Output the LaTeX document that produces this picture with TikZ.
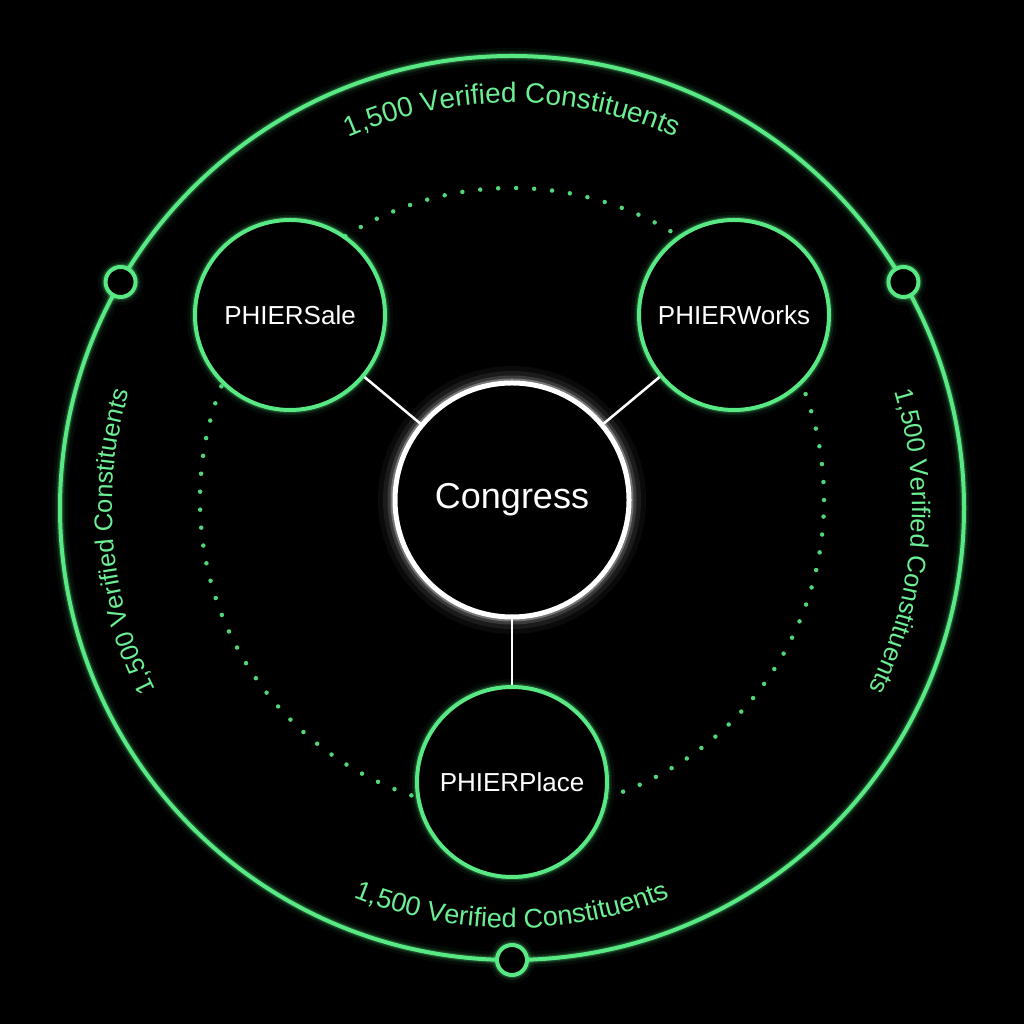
\documentclass[tikz,border=0pt]{standalone}
\usepackage{fontspec}
\setmainfont{Liberation Sans}
\usetikzlibrary{decorations.text}
\definecolor{neon}{RGB}{88,232,132}
\definecolor{neontext}{RGB}{108,238,148}
\newcommand\lblfontA{\fontsize{28pt}{32pt}\selectfont}
\newcommand\lblfontB{\fontsize{25.5pt}{30pt}\selectfont}
\newcommand\lblfontC{\fontsize{27pt}{31pt}\selectfont}
\begin{document}
\begin{tikzpicture}[x=1pt,y=1pt,
  glowg/.style={preaction={draw=neon,line width=16pt,draw opacity=0.05},
                preaction={draw=neon,line width=10pt,draw opacity=0.10},
                preaction={draw=neon,line width=6.5pt,draw opacity=0.22}},
  gloww/.style={preaction={draw=white,line width=34pt,draw opacity=0.04},
                preaction={draw=white,line width=24pt,draw opacity=0.07},
                preaction={draw=white,line width=15pt,draw opacity=0.14},
                preaction={draw=white,line width=9pt,draw opacity=0.30}},
  hub/.style={circle, draw=neon, line width=4pt, fill=black, minimum size=190pt,
              inner sep=0pt, text=white, font=\fontsize{26pt}{30pt}\selectfont, glowg},
  core/.style={circle, draw=white, line width=5pt, fill=black, minimum size=234pt,
              inner sep=0pt, text=white, font=\fontsize{36pt}{40pt}\selectfont, gloww},
  ring/.style={circle, draw=neon, line width=4pt, fill=black, minimum size=30pt,
              inner sep=0pt, glowg},
  link/.style={draw=white, line width=2.5pt},
  arclabel/.style={decorate, decoration={text along path, text align=center,
              text color=neontext, text={|#1|1,500 Verified Constituents}}}
]
\fill[black] (0,0) rectangle (1024,1024);
\useasboundingbox (0,0) rectangle (1024,1024);

\coordinate (O) at (512,516);
\coordinate (C) at (512,524);

% dotted orbit
\draw[neon, draw opacity=0.92, line width=4.5pt, line cap=round,
      dash pattern=on 0pt off 18pt] (C) circle[radius=312];

% outer circle
\draw[neon, line width=4pt, glowg] (O) circle[radius=452];

% rings on outer circle
\node[ring] (r1) at ([shift={(150:452)}]O) {};
\node[ring] (r2) at ([shift={(30:452)}]O) {};
\node[ring] (r3) at ([shift={(270:452)}]O) {};

% curved labels
\path[arclabel=\lblfontA] ([shift={(150:405)}]O) arc[start angle=150, end angle=30, radius=405];
\path[arclabel=\lblfontB] ([shift={(235:400)}]O) arc[start angle=235, end angle=135, radius=400];
\path[arclabel=\lblfontB] ([shift={(45:400)}]O) arc[start angle=45, end angle=-55, radius=400];
\path[arclabel=\lblfontC] ([shift={(210:420)}]O) arc[start angle=210, end angle=330, radius=420];

% nodes
\node[core] (cong) at (C) {Congress};
\node[hub] (sale) at (290,709) {PHIERSale};
\node[hub] (works) at (734,709) {PHIERWorks};
\node[hub] (place) at (512,242) {PHIERPlace};

% connectors
\draw[link] (sale) -- (cong);
\draw[link] (works) -- (cong);
\draw[link] (place) -- (cong);
\end{tikzpicture}
\end{document}
